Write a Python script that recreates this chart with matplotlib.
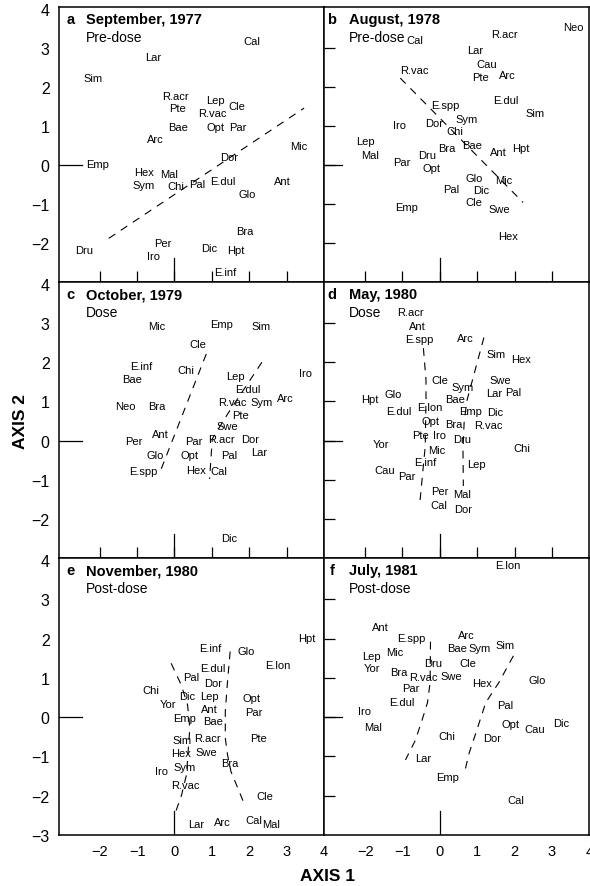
import matplotlib
matplotlib.use('Agg')
from matplotlib import pyplot as plt

plt.rcParams['font.family'] = ['Liberation Sans', 'DejaVu Sans']

# a  September, 1977 (pre-dose)
names_a = ["Cal", "Lar", "Sim", "R.acr", "Pte", "Lep", "Cle", "R.vac", "Bae", "Opt",
           "Par", "Arc", "Mic", "Dor", "Emp", "Hex", "Mal", "Sym", "Chi", "Pal",
           "E.dul", "Ant", "Glo", "Bra", "Per", "Dru", "Iro", "Dic", "Hpt", "E.inf"]
x_a = [2.06, -0.57, -2.17, 0.03, 0.09, 1.10, 1.67, 1.01, 0.09, 1.10,
       1.69, -0.50, 3.33, 1.47, -2.06, -0.82, -0.15, -0.82, 0.04, 0.60,
       1.29, 2.89, 1.95, 1.89, -0.31, -2.43, -0.55, 0.94, 1.65, 1.36]
y_a = [3.19, 2.77, 2.24, 1.78, 1.45, 1.66, 1.51, 1.33, 0.98, 0.98,
       0.98, 0.68, 0.48, 0.21, 0.03, -0.17, -0.22, -0.52, -0.54, -0.49,
       -0.40, -0.40, -0.73, -1.69, -2.01, -2.19, -2.34, -2.12, -2.19, -2.73]
lines_a = [([-1.76, 3.47], [-1.88, 1.46])]

# b  August, 1978 (pre-dose)
names_b = ["Neo", "R.acr", "Cal", "Lar", "Cau", "R.vac", "Pte", "Arc", "E.dul", "E.spp",
           "Sim", "Sym", "Iro", "Dor", "Chi", "Lep", "Mal", "Bra", "Bae", "Ant",
           "Hpt", "Dru", "Par", "Opt", "Glo", "Mic", "Pal", "Dic", "Cle", "Swe",
           "Emp", "Hex"]
x_b = [3.57, 1.73, -0.68, 0.94, 1.25, -0.68, 1.10, 1.82, 1.77, 0.15,
       2.54, 0.72, -1.08, -0.16, 0.41, -2.00, -1.87, 0.19, 0.85, 1.58,
       2.17, -0.35, -1.03, -0.22, 0.92, 1.71, 0.31, 1.12, 0.92, 1.60,
       -0.90, 1.84]
y_b = [3.54, 3.37, 3.21, 2.94, 2.59, 2.44, 2.26, 2.32, 1.68, 1.54,
       1.34, 1.18, 1.02, 1.09, 0.87, 0.61, 0.27, 0.44, 0.52, 0.34,
       0.44, 0.25, 0.07, -0.08, -0.33, -0.39, -0.61, -0.64, -0.95, -1.14,
       -1.08, -1.81]
lines_b = [([-1.06, 2.23], [2.23, -0.96])]

# c  October, 1979 (dose)
names_c = ["Mic", "Emp", "Sim", "Cle", "E.inf", "Chi", "Bae", "Lep", "Iro", "E.dul",
           "R.vac", "Sym", "Arc", "Neo", "Bra", "Pte", "Swe", "Ant", "Per", "Par",
           "R.acr", "Dor", "Glo", "Opt", "Pal", "Lar", "E.spp", "Hex", "Cal", "Dic"]
x_c = [-0.47, 1.27, 2.32, 0.63, -0.88, 0.31, -1.14, 1.64, 3.51, 1.97,
       1.55, 2.34, 2.98, -1.32, -0.47, 1.78, 1.41, -0.38, -1.08, 0.51,
       1.27, 2.02, -0.53, 0.39, 1.47, 2.28, -0.83, 0.59, 1.18, 1.47]
y_c = [2.92, 2.98, 2.93, 2.46, 1.91, 1.79, 1.57, 1.64, 1.73, 1.32,
       0.98, 0.98, 1.09, 0.88, 0.88, 0.66, 0.37, 0.17, 0.00, 0.00,
       0.03, 0.03, -0.38, -0.36, -0.38, -0.30, -0.78, -0.75, -0.79, -2.49]
lines_c = [([0.85, -0.39], [2.21, -0.81]),
           ([2.34, 1.45, 1.01, 0.94], [2.00, 0.72, 0.04, -0.98])]

# d  May, 1980 (dose)
names_d = ["R.acr", "Ant", "E.spp", "Arc", "Sim", "Hex", "Cle", "Swe", "Sym", "Lar",
           "Pal", "Glo", "Hpt", "Bae", "E.dul", "E.lon", "Emp", "Dic", "Opt", "Bra",
           "R.vac", "Pte", "Iro", "Dru", "Yor", "Mic", "Chi", "E.inf", "Lep", "Cau",
           "Par", "Per", "Mal", "Cal", "Dor"]
x_d = [-0.79, -0.59, -0.55, 0.69, 1.51, 2.17, 0.00, 1.62, 0.62, 1.45,
       1.97, -1.24, -1.88, 0.41, -1.09, -0.26, 0.81, 1.47, -0.24, 0.37,
       1.29, -0.53, 0.00, 0.61, -1.58, -0.09, 2.19, -0.38, 0.98, -1.47,
       -0.88, 0.00, 0.59, -0.03, 0.63]
y_d = [3.27, 2.93, 2.59, 2.63, 2.21, 2.09, 1.55, 1.55, 1.37, 1.21,
       1.23, 1.20, 1.06, 1.06, 0.75, 0.85, 0.75, 0.73, 0.49, 0.41,
       0.39, 0.15, 0.15, 0.04, -0.10, -0.23, -0.19, -0.55, -0.59, -0.76,
       -0.91, -1.30, -1.37, -1.65, -1.74]
lines_d = [([-0.44, -0.37, -0.37, -0.39, -0.53], [2.36, 1.55, 1.04, -0.14, -1.54]),
           ([1.18, 0.72, 0.65, 0.62, 0.63], [2.63, 1.00, 0.45, -0.23, -1.16])]

# e  November, 1980 (post-dose)
names_e = ["Hpt", "E.inf", "Glo", "E.lon", "E.dul", "Pal", "Dor", "Chi", "Dic", "Lep",
           "Opt", "Yor", "Ant", "Par", "Emp", "Bae", "Sim", "R.acr", "Pte", "Hex",
           "Swe", "Bra", "Sym", "Iro", "R.vac", "Cle", "Lar", "Arc", "Cal", "Mal"]
x_e = [3.53, 0.96, 1.93, 2.76, 1.03, 0.44, 1.03, -0.64, 0.35, 0.94,
       2.06, -0.18, 0.94, 2.12, 0.26, 1.03, 0.19, 0.88, 2.26, 0.17,
       0.85, 1.47, 0.26, -0.35, 0.30, 2.41, 0.59, 1.29, 2.12, 2.59]
y_e = [2.01, 1.77, 1.69, 1.32, 1.25, 1.01, 0.88, 0.70, 0.55, 0.53,
       0.48, 0.34, 0.21, 0.14, -0.01, -0.11, -0.57, -0.52, -0.52, -0.92,
       -0.90, -1.18, -1.28, -1.38, -1.72, -2.02, -2.72, -2.67, -2.61, -2.72]
lines_e = [([-0.09, 0.18, 0.35, 0.41, 0.32, 0.19, 0.02],
            [1.37, 0.82, 0.31, -0.28, -1.47, -1.98, -2.44]),
           ([1.49, 1.42, 1.36, 1.36, 1.42, 1.51, 1.86],
            [1.67, 0.91, 0.15, -0.53, -0.96, -1.38, -2.19])]

# f  July, 1981 (post-dose)
names_f = ["E.lon", "Ant", "E.spp", "Arc", "Sim", "Bae", "Sym", "Lep", "Mic", "Dru",
           "Cle", "Yor", "Bra", "R.vac", "Swe", "Hex", "Glo", "Par", "E.dul", "Pal",
           "Iro", "Mal", "Opt", "Cau", "Dic", "Chi", "Dor", "Lar", "Emp", "Cal"]
x_f = [1.82, -1.58, -0.75, 0.70, 1.74, 0.46, 1.07, -1.82, -1.21, -0.18,
       0.75, -1.82, -1.11, -0.44, 0.31, 1.14, 2.61, -0.79, -1.01, 1.75,
       -2.02, -1.78, 1.90, 2.54, 3.25, 0.18, 1.39, -0.44, 0.20, 2.04]
y_f = [3.87, 2.30, 2.01, 2.09, 1.83, 1.75, 1.75, 1.56, 1.66, 1.39,
       1.39, 1.25, 1.14, 1.03, 1.05, 0.87, 0.95, 0.73, 0.39, 0.31,
       0.15, -0.26, -0.18, -0.29, -0.16, -0.47, -0.53, -1.04, -1.53, -2.10]
lines_f = [([-0.25, -0.26, -0.33, -0.48, -0.66, -0.92], [1.92, 0.88, 0.37, -0.09, -0.60, -1.09]),
           ([1.97, 1.58, 1.23, 0.97, 0.79, 0.66], [1.56, 0.88, 0.37, -0.39, -0.90, -1.41])]

letters = ["a", "b", "c", "d", "e", "f"]
dates = ["September, 1977", "August, 1978", "October, 1979",
         "May, 1980", "November, 1980", "July, 1981"]
phases = ["Pre-dose", "Pre-dose", "Dose", "Dose", "Post-dose", "Post-dose"]

panels = [(names_a, x_a, y_a, lines_a), (names_b, x_b, y_b, lines_b),
          (names_c, x_c, y_c, lines_c), (names_d, x_d, y_d, lines_d),
          (names_e, x_e, y_e, lines_e), (names_f, x_f, y_f, lines_f)]

xticks = [-2, -1, 0, 1, 2, 3, 4]
marks = [-2, -1, 0, 1, 2, 3]

def minus(v):
    return str(v).replace('-', '\u2212')

fig = plt.figure(figsize=(5.9, 8.87), dpi=100)

col_x = [0.0995, 0.5492]
col_w = 0.4495
row_y = [0.6809, 0.3698, 0.0575]
row_h = [0.3100, 0.3112, 0.3123]

for i, (names, xs, ys, dash) in enumerate(panels):
    row, col = divmod(i, 2)
    ax = fig.add_axes([col_x[col], row_y[row], col_w, row_h[row]])
    ax.set_xlim(-3.1, 4.0)
    ax.set_ylim(-3, 4.05)
    for sp in ax.spines.values():
        sp.set_linewidth(1.1)

    # tick marks drawn as minor ticks, labels as zero-length major ticks
    ax.set_xticks(marks, minor=True)
    ax.set_yticks(marks, minor=True)
    if row == 2:
        ax.set_xticks(xticks, labels=[minus(v) for v in xticks])
    else:
        ax.set_xticks([])
    if col == 0:
        yl = list(range(4, -3 if row < 2 else -4, -1))
        ax.set_yticks(yl, labels=[minus(v) for v in yl])
    else:
        ax.set_yticks([])
    ax.tick_params(which='minor', direction='in', length=8, width=0.9)
    ax.tick_params(which='major', length=0, pad=6.5)
    ax.tick_params(axis='x', which='major', labelsize=10.5)
    ax.tick_params(axis='y', which='major', labelsize=11.5)

    zlen = 0.087 if col == 0 else 0.068
    ax.axhline(0, xmax=zlen, color='black', lw=0.9)
    ax.axvline(0, ymax=0.087, color='black', lw=0.9)

    for lx, ly in dash:
        ax.plot(lx, ly, color='black', lw=0.8, linestyle=(0, (7, 6)))

    for n, x, y in zip(names, xs, ys):
        ax.text(x, y, n, fontsize=8, ha='center', va='center')

    lx = 0.045 if col == 0 else 0.03
    tx = 0.103 if col == 0 else 0.095
    ax.text(lx, 0.955, letters[i], transform=ax.transAxes, fontsize=10.5,
            fontweight='bold', ha='center', va='center')
    ax.text(tx, 0.955, dates[i], transform=ax.transAxes, fontsize=10.5,
            fontweight='bold', ha='left', va='center')
    ax.text(tx, 0.89, phases[i], transform=ax.transAxes, fontsize=10,
            ha='left', va='center')

fig.text(0.034, 1 - 422 / 887, 'AXIS 2', rotation=90, fontsize=12.5,
         fontweight='bold', ha='center', va='center')
fig.text(328 / 590, 1 - 877 / 887, 'AXIS 1', fontsize=12.5,
         fontweight='bold', ha='center', va='center')

fig.savefig('out.png', dpi=100)
